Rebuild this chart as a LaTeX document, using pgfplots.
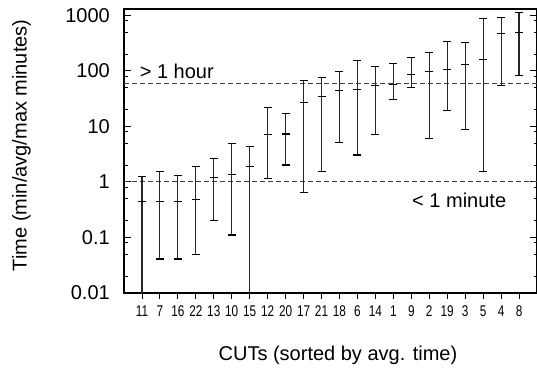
\documentclass[border=0pt]{standalone}
\usepackage{pgfplots}
\pgfplotsset{compat=1.18}
\usepackage{pgfplotstable}
\usepackage{fontspec}
\setmainfont{Liberation Sans}
\newfontfamily\narrowfont[FakeStretch=0.76]{Liberation Sans}
\pgfplotstableread{
x min avg max
0 0.001 0.44 1.24
1 0.041 0.44 1.53
2 0.041 0.44 1.30
3 0.050 0.49 1.89
4 0.20 1.22 2.67
5 0.111 1.38 4.84
6 0.001 1.89 4.33
7 1.17 7.03 21.8
8 2.02 7.3 16.8
9 0.64 27.3 66
10 1.53 34.4 75.7
11 5.1 43.6 97
12 3.06 45.5 151
13 7.1 55.2 120
14 30 57.5 137
15 50.8 84.7 174
16 5.95 97 217
17 19 104 337
18 8.9 132 324
19 1.53 162 890
20 53.7 464 927
21 82 498 1143
}\data
\begin{document}
\begin{tikzpicture}
\path[use as bounding box] (-124pt,-76pt) rectangle (413pt,293pt);
\begin{axis}[
  scale only axis, width=413pt, height=284pt,
  ymode=log, ymin=0.01, ymax=1300, xmin=-1, xmax=22,
  axis line style={line width=1.1pt},
  ytick={0.01,0.1,1,10,100,1000},
  yticklabels={0.01,0.1,1,10,100,1000},
  minor ytick={0.02,0.05,0.08,0.2,0.5,0.8,2,5,8,20,50,80,200,500,800},
  tick align=inside,
  major tick length=7pt, minor tick length=3.5pt,
  tick style={black, line width=0.9pt},
  xtick={0,...,21},
  xticklabels={11,7,16,22,13,10,15,12,20,17,21,18,6,14,1,9,2,19,3,5,4,8},
  xtick pos=bottom,
  every x tick/.append style={yshift=-6pt},
  yticklabel style={font=\fontsize{20}{20}\selectfont, inner sep=0pt, xshift=-14pt},
  xticklabel style={font=\narrowfont\fontsize{15.5}{15.5}\selectfont, inner sep=0pt, anchor=north, yshift=-12.5pt},
  xlabel={CUTs (sorted by avg. time)},
  xlabel style={at={(axis description cs:0.518,-0.218)}, anchor=center, font=\fontsize{20}{24}\selectfont},
  ylabel={Time (min/avg/max minutes)},
  ylabel style={at={(axis description cs:-0.248,0.52)}, anchor=center, font=\fontsize{20}{24}\selectfont},
]
\addplot[black!75, line width=0.9pt, dash pattern=on 5pt off 3pt] coordinates {(-1,60) (22,60)};
\addplot[black!75, line width=0.9pt, dash pattern=on 5pt off 3pt] coordinates {(-1,1) (22,1)};
\addplot[black, only marks, mark=-, mark size=4pt, mark options={line width=1.1pt},
  error bars/.cd, y dir=both, y explicit,
  error bar style={line width=1.15pt, black!85},
  error mark options={black, mark size=4pt, line width=1.1pt, rotate=90}]
  table[x=x, y=avg, y error plus expr=\thisrow{max}-\thisrow{avg}, y error minus expr=\thisrow{avg}-\thisrow{min}] {\data};
\node[anchor=west, inner sep=0pt, font=\fontsize{20}{20}\selectfont] at (axis cs:-0.13,100) {> 1 hour};
\node[anchor=west, inner sep=0pt, font=\fontsize{20}{20}\selectfont] at (axis cs:15.04,0.474) {< 1 minute};
\end{axis}
\end{tikzpicture}
\end{document}
